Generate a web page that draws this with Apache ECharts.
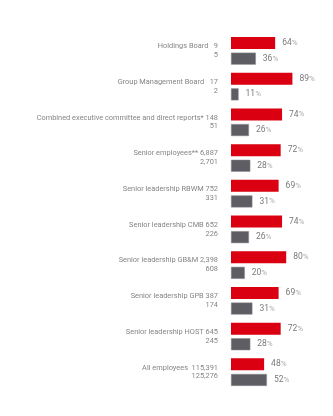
<!DOCTYPE html>
<html>
<head>
<meta charset="utf-8">
<script src="https://cdn.jsdelivr.net/npm/echarts@6/dist/echarts.min.js"></script>
<style>html,body{margin:0;padding:0;background:#fff;}#c{width:333px;height:416px;}</style>
</head>
<body>
<div id="c"></div>
<script>
var categories = ['Holdings Board', 'Group Management Board', 'Combined executive committee and direct reports*', 'Senior employees**', 'Senior leadership RBWM', 'Senior leadership CMB', 'Senior leadership GB&M', 'Senior leadership GPB', 'Senior leadership HOST', 'All employees '];
var countsA = [9, 17, 148, 6887, 752, 652, 2398, 387, 645, 115391];
var countsB = [5, 2, 51, 2701, 331, 226, 608, 174, 245, 125276];
var pctA = [64, 89, 74, 72, 69, 74, 80, 69, 72, 48];
var pctB = [36, 11, 26, 28, 31, 26, 20, 31, 28, 52];

function fmt(n){ return n.toLocaleString('en-US'); }
function pad(s){ while (s.length < 3) s = '  ' + s; return s; }
var font = 'Roboto, "Liberation Sans", sans-serif';
var chart = echarts.init(document.getElementById('c'), null, {renderer:'canvas'});
var pctLabel = {
  show: true, position: 'right', distance: 7,
  formatter: function(p){ return '{v|' + p.value + '}{p|%}'; },
  rich: {
    v: {fontSize: 8.5, color: '#7a7a7a', fontFamily: font},
    p: {fontSize: 8, color: '#aaaaaa', fontFamily: font}
  }
};
chart.setOption({
  animation: false,
  grid: {left: 231, right: 33, top: 33, bottom: 26, containLabel: false},
  xAxis: {type: 'value', min: 0, max: 100, show: false},
  yAxis: {
    type: 'category', inverse: true, data: categories,
    axisLine: {show: false}, axisTick: {show: false},
    axisLabel: {
      margin: 13, fontSize: 7.4, lineHeight: 8.8, color: '#858585', fontFamily: font, align: 'right',
      formatter: function(v, i){ return v + ' ' + pad(fmt(countsA[i])) + '\n' + fmt(countsB[i]); }
    }
  },
  series: [
    {type: 'bar', data: pctA, barWidth: 12, barGap: '30%', itemStyle: {color: '#db0011'}, label: pctLabel},
    {type: 'bar', data: pctB, barWidth: 12, barGap: '30%', itemStyle: {color: '#5d5d63', borderColor: '#8a8a90', borderWidth: 0.5}, label: pctLabel}
  ]
});
</script>
</body>
</html>
